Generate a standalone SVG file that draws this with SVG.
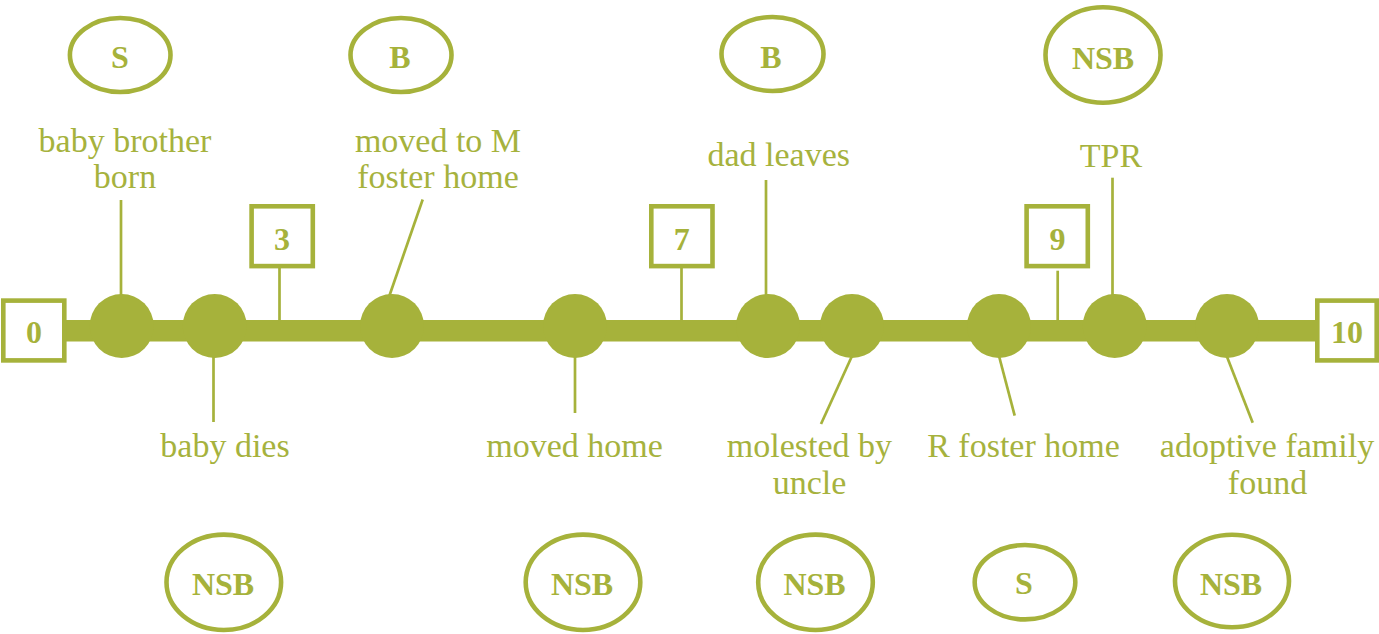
<svg xmlns="http://www.w3.org/2000/svg" width="1379" height="634" viewBox="0 0 1379 634">
<style>
.lbl{font-family:"Liberation Serif","Times New Roman",serif;font-size:34px;fill:#A6B23D;text-anchor:middle}
.b{font-family:"Liberation Serif","Times New Roman",serif;font-size:32px;font-weight:bold;fill:#A6B23B;text-anchor:middle}
.ell{fill:#fff;stroke:#A6B23B;stroke-width:4.6}
.box{fill:#fff;stroke:#A6B23B;stroke-width:4.6}
.dot{fill:#A6B23B}
.ln{stroke:#A6B23B;stroke-width:2.7;fill:none}
</style>
<rect width="1379" height="634" fill="#fff"/>
<g id="connectors">
<rect x="64" y="320" width="1253" height="21.5" fill="#A6B23B"/>
<line class="ln" x1="121" y1="200" x2="121" y2="296"/>
<line class="ln" x1="213.5" y1="356" x2="213.5" y2="422"/>
<line class="ln" x1="279.5" y1="266" x2="279.5" y2="322"/>
<line class="ln" x1="422.7" y1="199.5" x2="389.3" y2="296"/>
<line class="ln" x1="575" y1="356" x2="575" y2="413"/>
<line class="ln" x1="681.5" y1="266" x2="681.5" y2="322"/>
<line class="ln" x1="766" y1="180" x2="766" y2="296"/>
<line class="ln" x1="852" y1="356" x2="821" y2="424"/>
<line class="ln" x1="999" y1="356" x2="1014.7" y2="415.7"/>
<line class="ln" x1="1057.7" y1="270.7" x2="1057.7" y2="322"/>
<line class="ln" x1="1112.5" y1="177.7" x2="1112.5" y2="296"/>
<line class="ln" x1="1226.7" y1="356" x2="1252.7" y2="422.7"/>
</g>
<g id="dots">
<circle class="dot" cx="121.7" cy="326" r="32"/>
<circle class="dot" cx="214.7" cy="326" r="32"/>
<circle class="dot" cx="392" cy="326" r="32"/>
<circle class="dot" cx="575" cy="326" r="32"/>
<circle class="dot" cx="768" cy="326" r="32"/>
<circle class="dot" cx="852" cy="326" r="32"/>
<circle class="dot" cx="999" cy="326" r="32"/>
<circle class="dot" cx="1114.7" cy="326" r="32"/>
<circle class="dot" cx="1227" cy="326" r="32"/>
</g>
<g id="box0"><rect class="box" x="3.3" y="300.6" width="61" height="59.8"/><text class="b" x="34" y="343">0</text></g>
<g id="box3"><rect class="box" x="251.6" y="206.3" width="61.2" height="59.8"/><text class="b" x="282" y="249.5">3</text></g>
<g id="box7"><rect class="box" x="651.3" y="206.3" width="61.2" height="59.8"/><text class="b" x="681.7" y="249.5">7</text></g>
<g id="box9"><rect class="box" x="1026.6" y="206.3" width="61.2" height="59.8"/><text class="b" x="1057.5" y="249.5">9</text></g>
<g id="box10"><rect class="box" x="1317.3" y="300.6" width="59.4" height="59.8"/><text class="b" x="1347" y="343">10</text></g>
<g id="top-s"><ellipse class="ell" cx="120.2" cy="55" rx="50.3" ry="37"/><text class="b" x="120" y="68">S</text></g>
<g id="top-b1"><ellipse class="ell" cx="401" cy="55" rx="50.5" ry="37"/><text class="b" x="400" y="67.5">B</text></g>
<g id="top-b2"><ellipse class="ell" cx="772.5" cy="54" rx="51" ry="37"/><text class="b" x="771" y="67.5">B</text></g>
<g id="top-nsb"><ellipse class="ell" cx="1103" cy="55" rx="57.5" ry="47.7"/><text class="b" x="1103" y="69">NSB</text></g>
<g id="bot-nsb1"><ellipse class="ell" cx="223.8" cy="582.3" rx="57.3" ry="47.7"/><text class="b" x="223" y="595">NSB</text></g>
<g id="bot-nsb2"><ellipse class="ell" cx="583" cy="582.3" rx="57.3" ry="47.7"/><text class="b" x="582" y="595">NSB</text></g>
<g id="bot-nsb3"><ellipse class="ell" cx="815.5" cy="582.3" rx="57.3" ry="47.7"/><text class="b" x="814.5" y="595">NSB</text></g>
<g id="bot-s"><ellipse class="ell" cx="1025" cy="582.2" rx="50.3" ry="37.2"/><text class="b" x="1024" y="594">S</text></g>
<g id="bot-nsb4"><ellipse class="ell" cx="1232" cy="581" rx="57" ry="46.2"/><text class="b" x="1231" y="595">NSB</text></g>
<g id="labels">
<text class="lbl" x="125" y="151.7">baby brother</text>
<text class="lbl" x="125" y="188">born</text>
<text class="lbl" x="438" y="151.7">moved to M</text>
<text class="lbl" x="438" y="188">foster home</text>
<text class="lbl" x="778.7" y="165.7">dad leaves</text>
<text class="lbl" x="1111" y="166.7">TPR</text>
<text class="lbl" x="225" y="457.3">baby dies</text>
<text class="lbl" x="574.5" y="457.3">moved home</text>
<text class="lbl" x="809.5" y="456.7">molested by</text>
<text class="lbl" x="809.5" y="494">uncle</text>
<text class="lbl" x="1023.5" y="457.3">R foster home</text>
<text class="lbl" x="1267" y="456.7">adoptive family</text>
<text class="lbl" x="1267.5" y="494">found</text>
</g>
</svg>
